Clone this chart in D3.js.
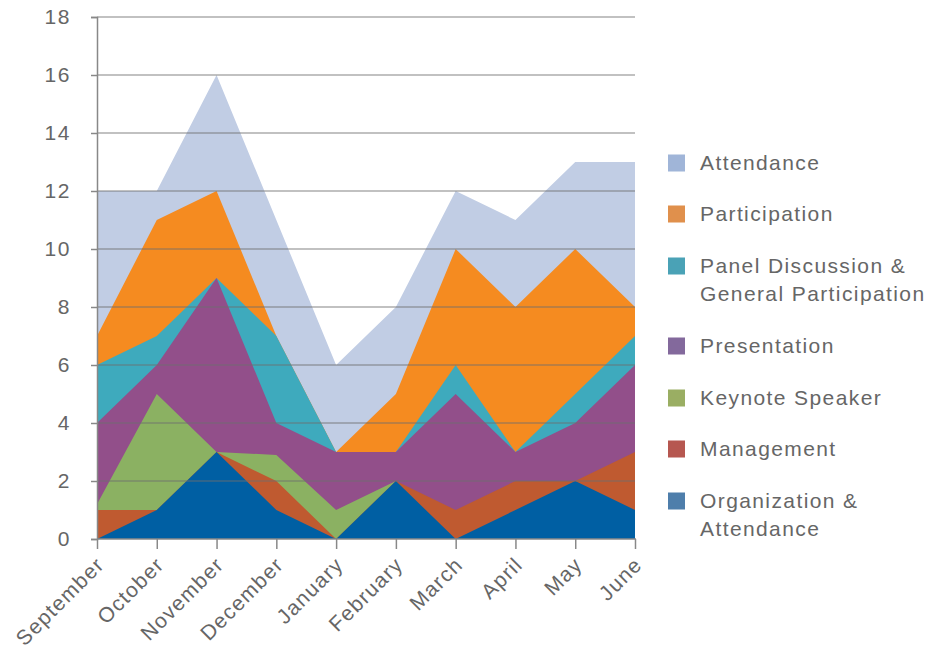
<!DOCTYPE html>
<html><head><meta charset="utf-8">
<script src="https://cdn.jsdelivr.net/npm/d3@7"></script>
<style>body{margin:0;background:#fff;} text{font-family:"Liberation Sans","Helvetica Neue",Arial,sans-serif;}</style>
</head><body>
<svg id="c" width="928" height="653"></svg>
<script>
const months = ["September","October","November","December","January","February","March","April","May","June"];
const seriesNames = ["Attendance","Participation","Panel Discussion & General Participation","Presentation","Keynote Speaker","Management","Organization & Attendance"];
const attendance    = [12, 12, 16, 11, 6, 8, 12, 11, 13, 13];
const participation = [7, 11, 12, 7, 3, 5, 10, 8, 10, 8];
const panel         = [6, 7, 9, 7, 3, 3, 6, 3, 5, 7];
const presentation  = [4, 6, 9, 4, 3, 3, 5, 3, 4, 6];
const keynote       = [1.2, 5, 3, 2.9, 1, 2, 0, 0, 0, 0];
const management    = [1, 1, 3, 2, 0, 2, 1, 2, 2, 3];
const organization  = [0, 1, 3, 1, 0, 2, 0, 1, 2, 1];
const yTicks = [0, 2, 4, 6, 8, 10, 12, 14, 16, 18];
const fillColors = ["#c1cde4","#f58b20","#3eaabd","#924f8a","#8bb162","#bf5a30","#005fa3"];
const legendColors = ["#a0b5d8","#e0904c","#4aa2b6","#83699c","#9aae63","#b65750","#4e7eab"];
const legendLabels = [["Attendance"],["Participation"],["Panel Discussion &","General Participation"],["Presentation"],["Keynote Speaker"],["Management"],["Organization &","Attendance"]];
const allSeries = [attendance, participation, panel, presentation, keynote, management, organization];

const svg = d3.select("#c");
const x = d3.scalePoint().domain(months).range([97, 635]);
const y = d3.scaleLinear().domain([0, 18]).range([539, 17]);

const area = d3.area().x((d,i)=>x(months[i])).y0(y(0)).y1(d=>y(d));
svg.append("g").selectAll("path").data(allSeries).join("path")
  .attr("d", d=>area(d)).attr("fill", (d,i)=>fillColors[i]);

// gridlines on top
svg.append("g").selectAll("line").data(yTicks.filter(t=>t>0)).join("line")
  .attr("x1", 97).attr("x2", 635).attr("y1", d=>y(d)).attr("y2", d=>y(d))
  .attr("stroke", "#6f6f6f").attr("stroke-opacity", 0.85).attr("stroke-width", 1.2);

// y axis
const ya = svg.append("g").attr("transform","translate(97,0)")
  .call(d3.axisLeft(y).tickValues(yTicks).tickSize(6).tickPadding(26));
ya.select(".domain").attr("stroke","#888").attr("stroke-width",1.5);
ya.selectAll(".tick line").attr("stroke","#888").attr("stroke-width",1.5);
ya.selectAll(".tick text").attr("fill","#666").attr("font-size",21)
  .attr("letter-spacing","1.6px").attr("text-anchor","end").attr("x",-26);

// x axis
const xa = svg.append("g").attr("transform","translate(0,539)")
  .call(d3.axisBottom(x).tickSize(10).tickSizeOuter(0));
xa.select(".domain").attr("stroke","#888").attr("stroke-width",1.5).attr("d","M97,0H636");
xa.selectAll(".tick line").attr("stroke","#888").attr("stroke-width",1.5);
xa.selectAll(".tick text").attr("fill","#666").attr("font-size",21).attr("letter-spacing","1.3px")
  .attr("text-anchor","end").attr("dy",0).attr("y",0)
  .attr("transform","translate(8,27) rotate(-45)");

// legend
const lg = svg.append("g");
const legendY = [163, 214, 266, 346, 398, 449, 501];
legendLabels.forEach((lines,i)=>{
  const g = lg.append("g").attr("transform",`translate(0,${legendY[i]})`);
  g.append("rect").attr("x",668).attr("y",-8.5).attr("width",17).attr("height",17).attr("fill",legendColors[i]);
  lines.forEach((t,j)=>{
    g.append("text").attr("x",700).attr("y",j*28).attr("dy","0.35em")
      .attr("fill","#666").attr("font-size",21).attr("letter-spacing","1.4px").text(t);
  });
});
</script>
</body></html>
